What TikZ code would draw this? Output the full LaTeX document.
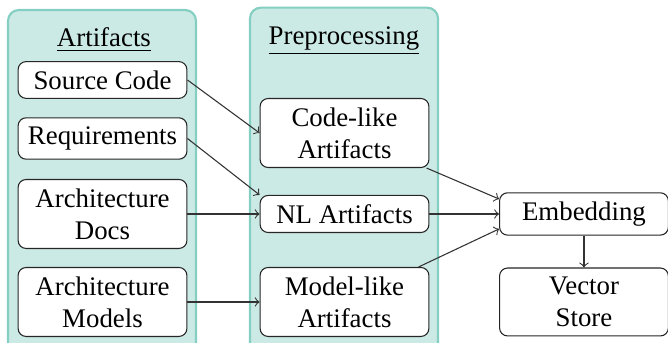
\documentclass[tikz,border=0pt]{standalone}
\usepackage{fontspec}
\setmainfont{Liberation Serif}
\definecolor{panelfill}{HTML}{CCEAE5}
\definecolor{panelline}{HTML}{85CFC2}
\begin{document}
\begin{tikzpicture}[line join=round, >=to,
	box/.style={draw=black!85, fill=white, rounded corners=3pt, align=center, minimum width=2.21cm},
	panel/.style={draw=panelline, fill=panelfill, rounded corners=4pt, line width=0.8pt}]
	\useasboundingbox (0,0) rectangle (8.745,-4.49);
	% columns
	\draw[panel] (0.105,-0.131) rectangle (2.566,-4.75);
	\draw[panel] (3.273,-0.100) rectangle (5.734,-4.75);
	\node[anchor=base] (arttitle) at (1.361,-0.611) {\underline{Artifacts}};
	\node[anchor=base] (pretitle) at (4.503,-0.580) {\underline{Preprocessing}};
	% artifacts
	\node[box] (src) at (1.342,-1.047) {Source Code};
	\node[box] (req) at (1.342,-1.813) {Requirements};
	\node[box] (adoc) at (1.342,-2.801) {Architecture\\Docs};
	\node[box] (amod) at (1.342,-3.953) {Architecture\\Models};
	% preprocessing
	\node[box] (code) at (4.510,-1.741) {Code-like\\Artifacts};
	\node[box] (nl) at (4.510,-2.801) {NL Artifacts};
	\node[box] (mod) at (4.510,-3.953) {Model-like\\Artifacts};
	% storage
	\node[box] (emb) at (7.645,-2.801) {Embedding};
	\node[box] (vec) at (7.645,-3.953) {Vector\\Store};
	\foreach \a/\b in {src.east/code.west, req.east/nl.north west, adoc.east/nl.west,
		amod.east/mod.west, code/emb.170, nl.east/emb.west, mod/emb.190, emb.south/vec.north}{
		\draw[->, black!80] (\a) -- (\b);}
\end{tikzpicture}
\end{document}
